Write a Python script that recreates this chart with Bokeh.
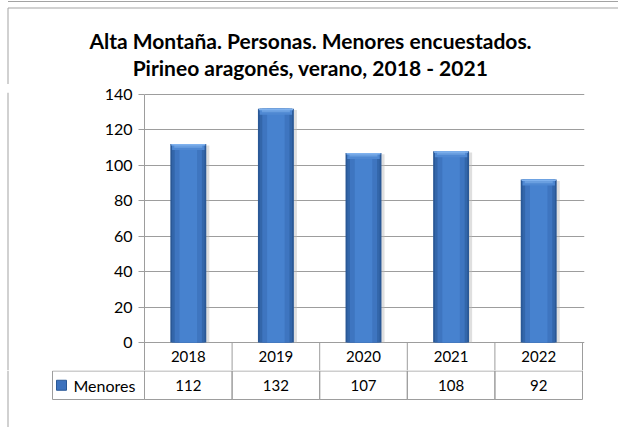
import numpy as np
from bokeh.plotting import figure
from bokeh.models import Range1d, FixedTicker
from bokeh.layouts import column, row
from bokeh.core.properties import value
from bokeh.embed import file_html
from bokeh.resources import INLINE

# ---------------- data ----------------
years = ["2018", "2019", "2020", "2021", "2022"]
menores = [112, 132, 107, 108, 92]
y_ticks = [0, 20, 40, 60, 80, 100, 120, 140]
series_name = "Menores"
title_lines = ["Alta Montaña. Personas. Menores encuestados.",
               "Pirineo aragonés, verano, 2018 - 2021"]

# ---------------- style / layout (page pixels, origin top-left) ----------------
FONT = "Lato"
GRID = "#9d9d9d"
FRAME = "#a3a3a3"
W = 618
C_H = 84                       # title strip: y 0..84
R_H = 286                      # chart row:   y 84..370
T_H = 57                       # table strip: y 370..427
L_W = 94                       # left strip of chart row: x 0..94
FRAME_X, FRAME_Y, OUTER_Y = 7.5, 7.5, 1.0
AX_X, RIGHT_X = 144, 584       # plot frame left/right
PX_TOP, PX_140, PX_ZERO = 92, 94, 342
ROW_PX = 28.5
CELL_PX = 87.6
LEG_LEFT = 52
TITLE_Y = [39.5, 67]

n = len(years)
ymax = max(y_ticks)
ppu = (PX_ZERO - PX_140) / ymax
row_top = C_H
row_bot = C_H + R_H
y_start = -(row_bot - PX_ZERO) / ppu
y_end = ymax + (PX_140 - PX_TOP) / ppu
x_end = (RIGHT_X - AX_X) / CELL_PX


def blank(width, height, xr, yr):
    f = figure(width=width, height=height, x_range=xr, y_range=yr,
               output_backend="svg", toolbar_location=None,
               x_axis_location=None, y_axis_location=None, min_border=0)
    f.outline_line_color = None
    f.grid.visible = False
    return f


# ---------------- title strip ----------------
c = blank(W, C_H, Range1d(0, W), Range1d(0, C_H))
c.segment(x0=[FRAME_X, FRAME_X, FRAME_X], y0=[C_H - OUTER_Y, C_H - FRAME_Y, C_H - FRAME_Y],
          x1=[W, W, FRAME_X], y1=[C_H - OUTER_Y, C_H - FRAME_Y, 0],
          line_color=FRAME, line_width=1)
c.text(x=[310, 310], y=[C_H - TITLE_Y[0], C_H - TITLE_Y[1]], text=title_lines,
       text_align="center", text_baseline="middle",
       text_font=value(FONT), text_font_style="bold", text_font_size="21px",
       text_color="#000000")

# ---------------- left strip (frame line) ----------------
lsp = blank(L_W, R_H, Range1d(0, L_W), Range1d(0, R_H))
lsp.segment(x0=[FRAME_X], y0=[0], x1=[FRAME_X], y1=[R_H], line_color=FRAME, line_width=1)

# ---------------- chart (+ first table row) ----------------
p = figure(width=W - L_W, height=R_H, x_range=Range1d(0, x_end), y_range=Range1d(y_start, y_end),
           output_backend="svg", toolbar_location=None, x_axis_location=None,
           min_border_left=AX_X - L_W, min_border_right=W - RIGHT_X,
           min_border_top=PX_TOP - row_top, min_border_bottom=0)
p.outline_line_color = None
p.xgrid.visible = False
p.ygrid.ticker = FixedTicker(ticks=y_ticks)
p.ygrid.grid_line_color = GRID
p.ygrid.grid_line_width = 1

ax = p.yaxis[0]
ax.ticker = FixedTicker(ticks=y_ticks)
ax.bounds = (y_start, ymax)
ax.axis_line_color = GRID
ax.major_tick_line_color = GRID
ax.major_tick_out = 6
ax.major_tick_in = 0
ax.minor_tick_line_color = None
ax.major_label_standoff = 6
ax.major_label_text_font = FONT
ax.major_label_text_font_size = "16px"
ax.major_label_text_color = "#000000"

xc = np.arange(n) + 0.5
vals = np.array(menores, dtype=float)

# soft shadow
p.vbar(x=xc + 0.03, top=vals - 0.8, bottom=0, width=0.42,
       fill_color="#b8b8b8", fill_alpha=0.45, line_color=None)
# bar layers (simulated gradient)
p.vbar(x=xc, top=vals, bottom=0, width=0.41, fill_color="#2a5896", line_color=None)
p.vbar(x=xc, top=vals, bottom=0, width=0.37, fill_color="#3366aa", line_color=None)
p.vbar(x=xc, top=vals, bottom=0, width=0.31, fill_color="#3e75c0", line_color=None)
p.vbar(x=xc, top=vals, bottom=0, width=0.20, fill_color="#4782cf", line_color=None)
# bevelled top
cap = 6 / ppu
p.vbar(x=xc, top=vals, bottom=vals - cap, width=0.37, fill_color="#4f88d2", line_color=None)
p.vbar(x=xc, top=vals, bottom=vals - cap * 0.6, width=0.32, fill_color="#6a9fe0", line_color=None)
p.vbar(x=xc, top=vals, bottom=vals - cap * 0.25, width=0.39, fill_color="#80b2ee", line_color=None)

# table row 1 (years) inside the chart frame
bnd = np.arange(1, n + 1)
p.segment(x0=bnd, y0=[0] * n, x1=bnd, y1=[y_start] * n, line_color=GRID, line_width=1)
row1_y = -(ROW_PX / 2) / ppu
p.text(x=xc, y=[row1_y] * n, text=years,
       text_align="center", text_baseline="middle",
       text_font=value(FONT), text_font_size="15px", text_color="#000000")

# ---------------- table row 2 strip ----------------
t_top_px = row_bot
t_x0 = -AX_X / CELL_PX
t_x1 = (W - AX_X) / CELL_PX
t_y_top = -(t_top_px - PX_ZERO) / ROW_PX
t_y_bot = -(t_top_px + T_H - PX_ZERO) / ROW_PX
t = blank(W, T_H, Range1d(t_x0, t_x1), Range1d(t_y_bot, t_y_top))
fx = (FRAME_X - AX_X) / CELL_PX
t.segment(x0=[fx], y0=[t_y_bot], x1=[fx], y1=[t_y_top], line_color=FRAME, line_width=1)

bnd0 = np.arange(0, n + 1)
t.segment(x0=bnd0, y0=[t_y_top] * (n + 1), x1=bnd0, y1=[-1] * (n + 1),
          line_color=GRID, line_width=1)
leg_x = -(AX_X - LEG_LEFT) / CELL_PX
t.rect(x=list(xc) + [leg_x / 2], y=[-1.5] * (n + 1), width=[1] * n + [-leg_x], height=1,
       fill_color=None, line_color=GRID, line_width=1)
t.text(x=xc, y=[-1.5] * n, text=[str(v) for v in menores],
       text_align="center", text_baseline="middle",
       text_font=value(FONT), text_font_size="15px", text_color="#000000")
# legend key + series name
t.rect(x=[leg_x + 9 / CELL_PX], y=[-1.5], width=10, height=10,
       width_units="screen", height_units="screen",
       fill_color="#3d72bd", line_color="#2a5896", line_width=1)
t.text(x=[leg_x + 21 / CELL_PX], y=[-1.5], text=[series_name],
       text_align="left", text_baseline="middle",
       text_font=value(FONT), text_font_size="16px", text_color="#000000")

layout = column(c, row(lsp, p), t)

with open("out.html", "w") as f:
    f.write(file_html(layout, INLINE))
